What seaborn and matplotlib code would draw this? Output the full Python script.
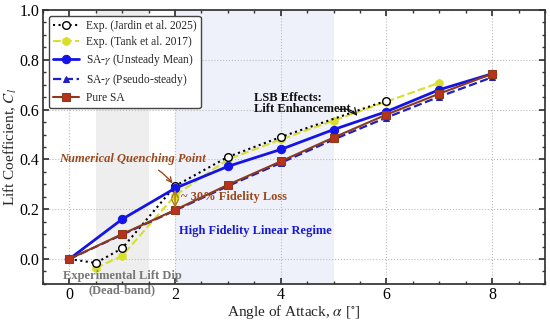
import numpy as np
import pandas as pd
import seaborn as sns
import matplotlib.pyplot as plt
from matplotlib.ticker import AutoMinorLocator

# data
jardin_aoa = [0, 0.5, 1, 2, 3, 4, 6]
jardin_cl = [0.0, -0.016, 0.043, 0.293, 0.41, 0.49, 0.636]

tank_aoa = [0.5, 1, 2, 3, 4, 5, 6, 7]
tank_cl = [-0.036, 0.013, 0.255, 0.40, 0.48, 0.556, 0.632, 0.708]

unsteady_aoa = [0, 1, 2, 3, 4, 5, 6, 7, 8]
unsteady_cl = [0.0, 0.16, 0.284, 0.372, 0.44, 0.52, 0.592, 0.68, 0.744]

pseudo_aoa = [0, 1, 2, 3, 4, 5, 6, 7, 8]
pseudo_cl = [0.0, 0.098, 0.195, 0.293, 0.386, 0.48, 0.568, 0.652, 0.73]

puresa_aoa = [0, 1, 2, 3, 4, 5, 6, 7, 8]
puresa_cl = [0.0, 0.1, 0.197, 0.298, 0.392, 0.488, 0.58, 0.664, 0.744]

sns.set_theme(style='ticks')
plt.rcParams['font.family'] = ['Liberation Serif', 'DejaVu Serif']
plt.rcParams['mathtext.fontset'] = 'stix'

fig = plt.figure(figsize=(5.5, 3.23), dpi=100)
ax = fig.add_axes([0.078, 0.121, 0.913, 0.848])

# shaded regions
ax.axvspan(0.5, 1.5, color='#e9e9e9', alpha=0.75, lw=0, zorder=0)
ax.axvspan(2, 5, color='#eef0fa', alpha=0.9, lw=0, zorder=0)

# series
sns.lineplot(x=jardin_aoa, y=jardin_cl, ax=ax, color='black', ls=':', lw=1.5,
             marker='o', markersize=5.5, markerfacecolor='white', markeredgecolor='black',
             markeredgewidth=1.0, label='Exp. (Jardin et al. 2025)', zorder=4)
sns.lineplot(x=tank_aoa, y=tank_cl, ax=ax, color='#d8de2c', ls='--', lw=1.5,
             marker='h', markersize=6, markeredgecolor='#d8de2c',
             label='Exp. (Tank et al. 2017)', zorder=3)
sns.lineplot(x=unsteady_aoa, y=unsteady_cl, ax=ax, color='#1414e6', ls='-', lw=2,
             marker='o', markersize=6, markeredgecolor='#1414e6',
             label=r'SA-$\gamma$ (Unsteady Mean)', zorder=5)
sns.lineplot(x=pseudo_aoa, y=pseudo_cl, ax=ax, color='#2020c0', ls='--', lw=1.6,
             marker='^', markersize=5, markeredgecolor='#2020c0',
             label=r'SA-$\gamma$ (Pseudo-steady)', zorder=4)
sns.lineplot(x=puresa_aoa, y=puresa_cl, ax=ax, color='#8b3a1a', ls='-', lw=1.5,
             marker='s', markersize=6, markerfacecolor='#b8321c', markeredgecolor='#8b3a1a',
             label='Pure SA', zorder=6)

ax.set_xlim(-0.5, 9)
ax.set_ylim(-0.1, 1.0)
ax.set_xticks([0, 2, 4, 6, 8])
ax.set_yticks([0.0, 0.2, 0.4, 0.6, 0.8, 1.0])
ax.xaxis.set_minor_locator(AutoMinorLocator(4))
ax.yaxis.set_minor_locator(AutoMinorLocator(4))
ax.tick_params(which='both', direction='in', top=True, right=True, labelsize=11.5,
               colors='#333333', labelcolor='black')
ax.tick_params(which='major', length=4, pad=2.5)
ax.tick_params(which='minor', length=2)
ax.grid(True, which='major', ls=':', color='#bbbbbb', lw=0.8)
for s in ax.spines.values():
    s.set_color('#333333')
ax.set_xlabel(r'Angle of Attack, $\alpha$ [$^{\circ}$]', fontsize=11, labelpad=0)
ax.set_ylabel(r'Lift Coefficient, $C_l$', fontsize=11, labelpad=0.5)

leg = ax.legend(loc='upper left', fontsize=8.3, frameon=True, fancybox=True,
                edgecolor='#444444', framealpha=1, borderpad=0.35, labelspacing=0.35,
                handlelength=2.3, handletextpad=0.6, bbox_to_anchor=(0.0, 1.0))

# annotations
brown = '#9a4a1e'
ax.annotate('Numerical Quenching Point', xy=(2, 0.29), xytext=(1.2, 0.4),
            fontsize=9, fontweight='bold', fontstyle='italic', color=brown,
            ha='center', va='center',
            arrowprops=dict(arrowstyle='->', color=brown, lw=1.0,
                            connectionstyle='arc3,rad=-0.2', shrinkA=2, shrinkB=3),
            zorder=8)
ax.annotate('', xy=(2, 0.2), xytext=(2, 0.284),
            arrowprops=dict(arrowstyle='<->', color='#b07a10', lw=1.0, shrinkA=1, shrinkB=1),
            zorder=7)
ax.text(2.12, 0.248, '~ 30% Fidelity Loss', fontsize=9, fontweight='bold', color=brown,
        ha='left', va='center', zorder=8)
ax.text(2.07, 0.112, 'High Fidelity Linear Regime', fontsize=9, fontweight='bold',
        color='#1a1ad0', ha='left', va='center', zorder=8)
ax.text(3.5, 0.625, 'LSB Effects:\nLift Enhancement', fontsize=9, fontweight='bold',
        color='#111111', ha='left', va='center', linespacing=0.95, zorder=8)
ax.annotate('', xy=(5.45, 0.575), xytext=(5.1, 0.6),
            arrowprops=dict(arrowstyle='->', color='#111111', lw=0.9,
                            connectionstyle='arc3,rad=-0.3', shrinkA=0, shrinkB=0),
            zorder=8)
ax.text(1.0, -0.068, 'Experimental Lift Dip', fontsize=9, fontweight='bold',
        color='#777777', ha='center', va='center', zorder=8)
ax.text(1.0, -0.124, '(Dead-band)', fontsize=9, fontweight='bold',
        color='#777777', ha='center', va='center', zorder=8, clip_on=False)

fig.savefig('out.png', dpi=100)
